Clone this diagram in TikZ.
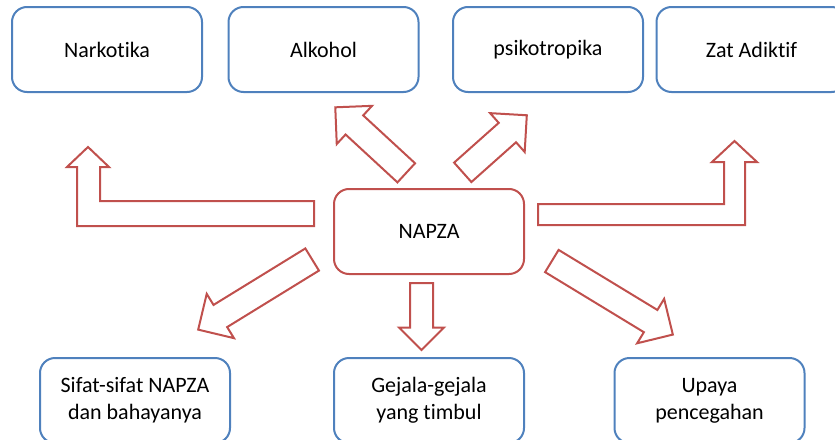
\documentclass[tikz,border=0pt]{standalone}
\usepackage{fontspec}
\setmainfont{Carlito}[Ligatures=NoCommon]
\usetikzlibrary{shapes.arrows}
\definecolor{kotakbiru}{RGB}{79,129,189}
\definecolor{panahmerah}{RGB}{192,80,77}
\tikzset{
	kotak/.style={draw=kotakbiru, line width=1pt, rounded corners=7.5pt, minimum width=95pt, minimum height=42.5pt, align=center, font=\fontsize{11}{13.5}\selectfont},
	pusat/.style={kotak, draw=panahmerah},
	panah/.style={draw=panahmerah, line width=1pt, single arrow, single arrow tip angle=90, single arrow head extend=6.5pt, inner sep=6pt, anchor=tail},
	belok/.style={draw=panahmerah, line width=1pt}
}
\begin{document}
\begin{tikzpicture}[x=0.5pt, y=-0.5pt]
		\useasboundingbox (0,0) rectangle (835,439);
		
		% Kotak atas
		\node[kotak] (narkotika) at (107,49.5) {Narkotika};
		\node[kotak] (alkohol) at (323.5,49.5) {Alkohol};
		\node[kotak] (psikotropika) at (548,49.5) {psikotropika};
		\node[kotak] (zat) at (751.5,49.5) {Zat Adiktif};
		
		% Pusat
		\node[pusat] (napza) at (429,231.5) {NAPZA};
		
		% Kotak bawah
		\node[kotak] (sifat) at (135,400.5) {Sifat-sifat NAPZA\\dan bahayanya};
		\node[kotak] (gejala) at (429,400.5) {Gejala-gejala\\yang timbul};
		\node[kotak] (upaya) at (709.5,400.5) {Upaya\\pencegahan};
		
		% Panah lurus
		\node[panah, rotate=137.3, minimum height=48.3pt] (keAlkohol) at (407,173.5) {};
		\node[panah, rotate=41.7, minimum height=42.9pt] (kePsikotropika) at (462,173) {};
		\node[panah, rotate=211.6, minimum height=66.9pt] (keSifat) at (313,259) {};
		\node[panah, rotate=270, minimum height=33.5pt, inner sep=5.25pt, single arrow head extend=5.5pt] (keGejala) at (421.5,282) {};
		\node[panah, rotate=-31.3, minimum height=70.8pt] (keUpaya) at (551,260.5) {};
		
		% Panah belok
		\draw[belok] (314,201) -- (100,201) -- (100,167) -- (109,167) -- (88,147) -- (67,167) -- (77,167) -- (77,226) -- (314,226) -- cycle;
		\draw[belok] (538,204) -- (724,204) -- (724,162) -- (712,162) -- (734.5,141) -- (757,162) -- (745,162) -- (745,225) -- (538,225) -- cycle;
	\end{tikzpicture}
\end{document}
